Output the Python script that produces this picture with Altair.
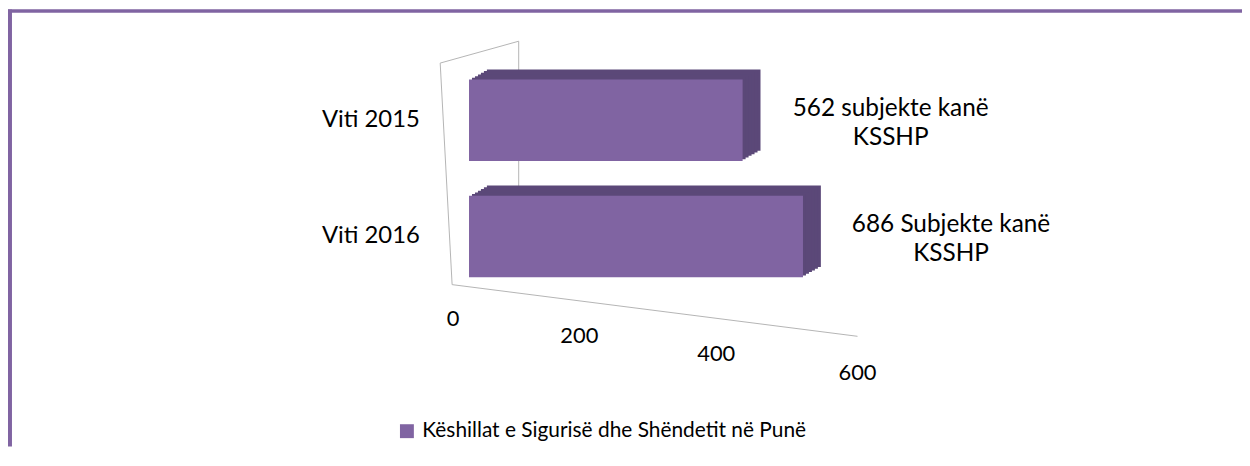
import altair as alt
import pandas as pd

# ---- data ----
categories = ["Viti 2015", "Viti 2016"]
values = [562, 686]
label_line1 = ["562 subjekte kanë", "686 Subjekte kanë"]
label_line2 = ["KSSHP", "KSSHP"]
series_name = "Këshillat e Sigurisë dhe Shëndetit në Punë"
tick_values = [0, 200, 400, 600]

# ---- style ----
FRONT = "#8064A2"
DEPTH = "#5B4878"
WALL = "#B4B4B4"
FONT = "Lato"
W, H = 1242, 440

bars_df = pd.DataFrame({
    "cat": categories,
    "val": values,
    "series": [series_name] * len(categories),
    "lbl": [a + "\n" + b for a, b in zip(label_line1, label_line2)],
})
ticks_df = pd.DataFrame({"t": tick_values})

xs = alt.Scale(domain=[0, 600], range=[464, 758], nice=False, zero=True)
ys = alt.Scale(domain=categories, range=[53, 287], paddingInner=0.3, paddingOuter=0.15)

X_ENC = alt.X("val:Q", scale=xs, axis=None)
Y_ENC = alt.Y(
    "cat:N",
    scale=ys,
    axis=alt.Axis(
        orient="left", offset=-414, domain=False, ticks=False, grid=False,
        labelPadding=0, labelFont=FONT, labelFontSize=24, labelColor="#000000",
        labelAlign="right", title=None,
    ),
)

base = alt.Chart(bars_df)

# pseudo-3D depth (staircase of darker offset bars)
depth_layers = []
for i in range(6, 0, -1):
    depth_layers.append(
        base.mark_bar(color=DEPTH, xOffset=3 * i, yOffset=-1.7 * i).encode(x=X_ENC, y=Y_ENC)
    )

front = base.mark_bar().encode(
    x=X_ENC,
    y=Y_ENC,
    color=alt.Color(
        "series:N",
        scale=alt.Scale(range=[FRONT]),
        legend=alt.Legend(
            orient="none", legendX=391, legendY=414, title=None,
            symbolType="square", symbolSize=196, symbolStrokeWidth=0,
            labelFont=FONT, labelFontSize=21, labelColor="#000000",
            labelOffset=5, padding=0, labelLimit=0,
        ),
    ),
)

labels = base.mark_text(
    align="center", baseline="middle", dx=149, dy=-11, lineBreak="\n",
    font=FONT, fontSize=24.5, lineHeight=29, color="#000000",
).encode(x=X_ENC, y=Y_ENC, text="lbl:N")

bars_group = alt.layer(*depth_layers, front, labels)

ticks = alt.Chart(ticks_df).mark_text(
    align="center", baseline="middle", font=FONT, fontSize=22, color="#000000"
).encode(
    x=alt.X("t:Q", scale=alt.Scale(type="pow", exponent=1.06, domain=[0, 600], range=[448, 855], nice=False), axis=None),
    y=alt.Y("t:Q", scale=alt.Scale(type="pow", exponent=1.06, domain=[0, 600], range=[311.5, 366], nice=False), axis=None),
    text="t:Q",
)

def seg(x1, y1, x2, y2, color=WALL, width=1):
    return alt.Chart(pd.DataFrame({"k": [0]})).mark_rule(color=color, strokeWidth=width).encode(
        x=alt.value(x1), y=alt.value(y1), x2=alt.value(x2), y2=alt.value(y2)
    )

wall = [
    seg(435, 54, 447, 277),
    seg(514, 32, 514, 242),
    seg(435, 54, 514, 32),
    seg(447, 277, 855, 329),
]

frame = [
    seg(0, 1.5, W, 1.5, color=FRONT, width=3.5),
    seg(2, 0, 2, H, color=FRONT, width=4),
]

chart = alt.layer(*wall, bars_group, ticks, *frame).resolve_scale(
    x="independent", y="independent"
).properties(
    width=W, height=H,
    autosize=alt.AutoSizeParams(type="none"),
    padding=0,
).configure_view(stroke=None)

chart.save("out.html", embed_options={"renderer": "svg", "actions": False})
